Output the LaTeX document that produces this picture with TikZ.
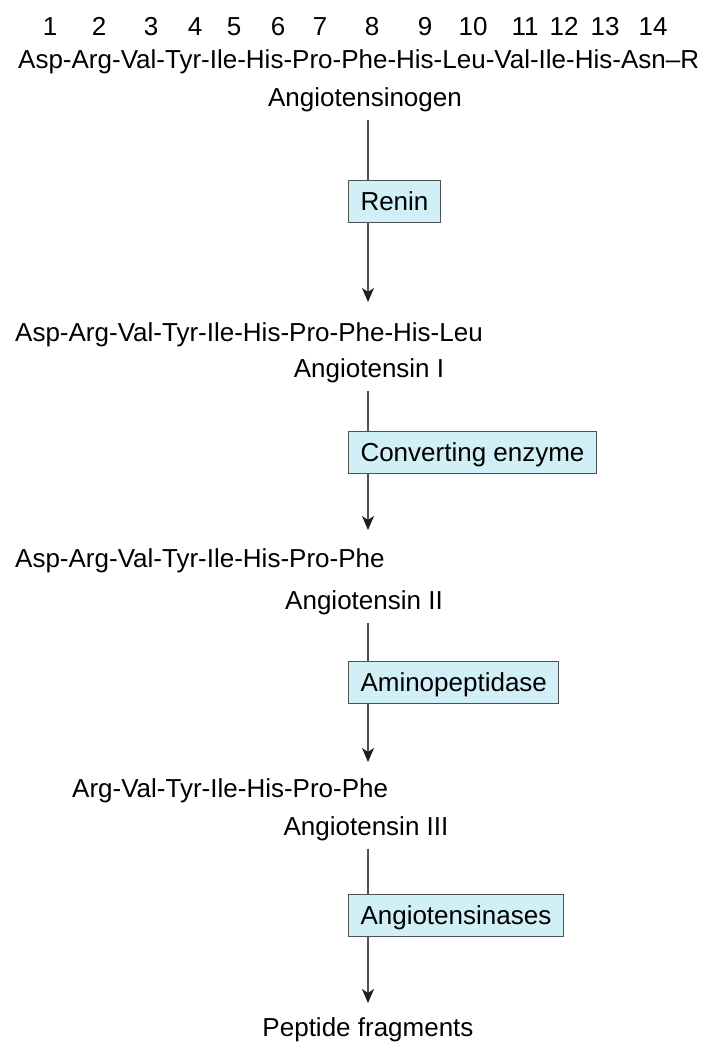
\documentclass[tikz,border=0pt]{standalone}
\usepackage{fontspec}
\setmainfont{Liberation Sans}
\usetikzlibrary{arrows.meta,calc}
\definecolor{boxfill}{RGB}{208,239,246}
\definecolor{linec}{RGB}{80,80,80}
\definecolor{tipc}{RGB}{30,30,30}
\begin{document}
\begin{tikzpicture}[x=1pt,y=-1pt,
  lab/.style={font=\fontsize{26}{30}\selectfont, inner sep=0pt, text=black},
  enz/.style={draw=linec, line width=1pt, fill=boxfill, font=\fontsize{26}{30}\selectfont,
    inner xsep=12pt, inner ysep=0pt, text height=18.6pt, text depth=0pt,
    minimum height=42pt, anchor=west},
  conn/.style={draw=linec, line width=1.6pt},
  arr/.style={conn, -{Stealth[length=14pt,width=12pt,inset=4pt,color=tipc]}}]
\useasboundingbox (0,0) rectangle (710,1042);
\coordinate (axis) at (368,0);
% residue numbers
\foreach \n/\x in {1/50,2/99,3/151,4/195,5/234,6/278,7/320,8/372,9/425,10/473,11/525,12/564,13/605,14/653}
  \node[lab, anchor=base] (num\n) at (\x,35) {\n};
\node[lab, anchor=base west] (seq0) at (18,68) {Asp-Arg-Val-Tyr-Ile-His-Pro-Phe-His-Leu-Val-Ile-His-Asn–R};
\node[lab, anchor=base] (name0) at (365,106) {Angiotensinogen};
\node[enz] (e1) at (348,201) {Renin};
\coordinate (t1) at (368,302);
\node[lab, anchor=base west] (seq1) at (15,341) {Asp-Arg-Val-Tyr-Ile-His-Pro-Phe-His-Leu};
\node[lab, anchor=base] (name1) at (369,377) {Angiotensin I};
\node[enz] (e2) at (348,452) {Converting enzyme};
\coordinate (t2) at (368,530);
\node[lab, anchor=base west] (seq2) at (15,567) {Asp-Arg-Val-Tyr-Ile-His-Pro-Phe};
\node[lab, anchor=base] (name2) at (364,609) {Angiotensin II};
\node[enz] (e3) at (348,682) {Aminopeptidase};
\coordinate (t3) at (368,762);
\node[lab, anchor=base west] (seq3) at (72,797) {Arg-Val-Tyr-Ile-His-Pro-Phe};
\node[lab, anchor=base] (name3) at (366,835) {Angiotensin III};
\node[enz] (e4) at (348,915) {Angiotensinases};
\coordinate (t4) at (368,1003);
\node[lab, anchor=base] (frag) at (368,1036) {Peptide fragments};
% connectors
\draw[conn] ($(name0.south -| axis)+(0,8)$) -- (e1.north -| axis);
\draw[arr] (e1.south -| axis) -- (t1);
\draw[conn] ($(name1.south -| axis)+(0,8)$) -- (e2.north -| axis);
\draw[arr] (e2.south -| axis) -- (t2);
\draw[conn] ($(name2.south -| axis)+(0,8)$) -- (e3.north -| axis);
\draw[arr] (e3.south -| axis) -- (t3);
\draw[conn] ($(name3.south -| axis)+(0,8)$) -- (e4.north -| axis);
\draw[arr] (e4.south -| axis) -- (t4);
\end{tikzpicture}
\end{document}
